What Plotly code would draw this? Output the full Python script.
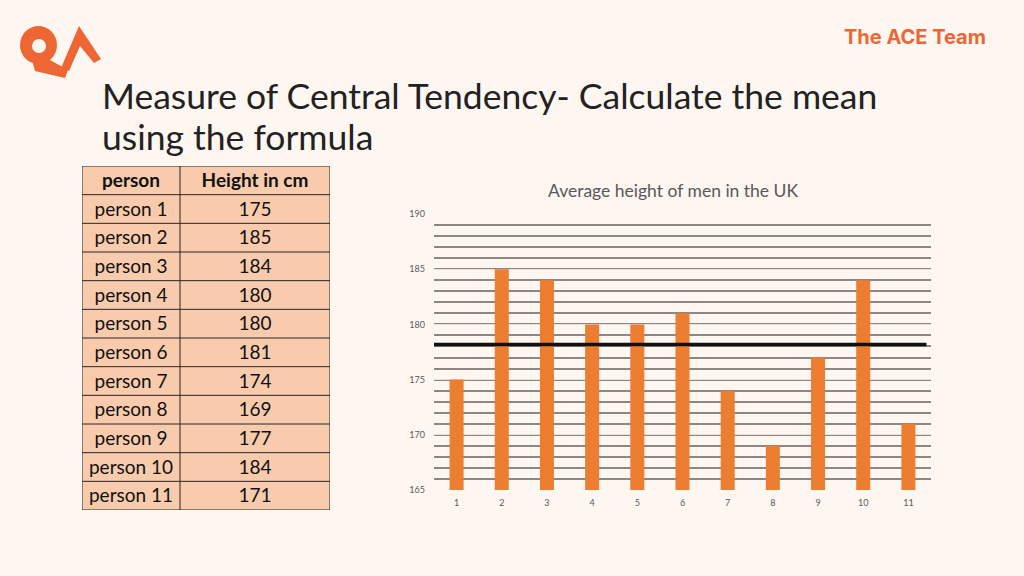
import plotly.graph_objects as go

persons = ["person 1", "person 2", "person 3", "person 4", "person 5", "person 6",
           "person 7", "person 8", "person 9", "person 10", "person 11"]
heights = [175, 185, 184, 180, 180, 181, 174, 169, 177, 184, 171]
table_header = ["person", "Height in cm"]
x_idx = list(range(1, 12))
y_ticks = [165, 170, 175, 180, 185, 190]
mean_h = sum(heights) / len(heights)

BG = "#FDF6F1"
ORANGE = "#ED7D31"
BRAND = "#EE6633"
PEACH = "#F8CBAD"
W, H = 1024, 576

def px(x):
    return x / W

def py(y):
    return 1 - y / H

fig = go.Figure()

# Bars
fig.add_trace(go.Bar(x=x_idx, y=[h - 165 for h in heights], base=165,
                     marker=dict(color=ORANGE, line_width=0), width=0.31,
                     hoverinfo="skip", showlegend=False))

# Mean line
fig.add_trace(go.Scatter(x=[0.47, 11.4], y=[mean_h, mean_h], mode="lines",
                         line=dict(color="#111111", width=3.5),
                         hoverinfo="skip", showlegend=False))

# Table (on its own hidden axes: x in px units of table width, y in rows)
col_w = [98, 150]
col_edges = [0, col_w[0], col_w[0] + col_w[1]]
col_centers = [col_w[0] / 2, col_w[0] + col_w[1] / 2]
n_rows = len(persons) + 1
text_off = 0.57

fig.add_trace(go.Scatter(
    x=[col_centers[0], col_centers[1]], y=[text_off, text_off], mode="text",
    text=[f"<b>{t}</b>" for t in table_header], xaxis="x2", yaxis="y2",
    textfont=dict(family="Lato", size=19, color="#111111"),
    hoverinfo="skip", showlegend=False))
fig.add_trace(go.Scatter(
    x=[col_centers[0]] * len(persons) + [col_centers[1]] * len(heights),
    y=[i + 1 + text_off for i in range(len(persons))] * 2, mode="text",
    text=persons + [str(h) for h in heights], xaxis="x2", yaxis="y2",
    textfont=dict(family="Lato", size=19, color="#111111"),
    hoverinfo="skip", showlegend=False))

shapes = [dict(type="rect", xref="x2", yref="y2", x0=col_edges[0], x1=col_edges[2],
               y0=0, y1=n_rows, fillcolor=PEACH, line=dict(color="#262626", width=1),
               layer="below")]
for r in range(1, n_rows):
    shapes.append(dict(type="line", xref="x2", yref="y2", x0=col_edges[0], x1=col_edges[2],
                       y0=r, y1=r, line=dict(color="#262626", width=1), layer="below"))
shapes.append(dict(type="line", xref="x2", yref="y2", x0=col_edges[1], x1=col_edges[1],
                   y0=0, y1=n_rows, line=dict(color="#262626", width=1), layer="below"))

fig.update_layout(
    width=W, height=H,
    paper_bgcolor=BG, plot_bgcolor=BG,
    margin=dict(l=0, r=0, t=0, b=0, pad=0, autoexpand=False),
    showlegend=False,
    xaxis=dict(domain=[px(434), px(931)], range=[0.5, 11.5], automargin=False,
               tickvals=x_idx, ticktext=[str(i) for i in x_idx],
               showgrid=False, zeroline=False, showline=False,
               ticks="", ticklabelstandoff=6,
               tickfont=dict(family="Lato", size=9, color="#595959")),
    yaxis=dict(domain=[py(490), py(214)], range=[165, 190], automargin=False,
               tickvals=y_ticks, showgrid=True, gridcolor="#E6E0DB", gridwidth=1,
               zeroline=False, showline=False, ticks="",
               ticklabelstandoff=8,
               tickfont=dict(family="Lato", size=9, color="#595959"),
               minor=dict(dtick=1, showgrid=True, gridcolor="#8E8682", gridwidth=2)),
    xaxis2=dict(domain=[px(82), px(330)], range=[0, col_edges[2]], visible=False,
                anchor="y2", fixedrange=True, automargin=False),
    yaxis2=dict(domain=[py(510), py(166)], range=[n_rows, 0], visible=False,
                anchor="x2", fixedrange=True, automargin=False),
)

annotations = [
    dict(text="Average height of men in the UK", x=px(673), y=py(190),
         xref="paper", yref="paper", showarrow=False,
         font=dict(family="Lato", size=17.5, color="#595959"),
         xanchor="center", yanchor="middle"),
    dict(text="Measure of Central Tendency- Calculate the mean",
         x=px(100), y=py(95), xref="paper", yref="paper", showarrow=False,
         align="left", xanchor="left", yanchor="middle",
         font=dict(family="Lato", size=35.5, color="#222222")),
    dict(text="using the formula",
         x=px(100), y=py(136), xref="paper", yref="paper", showarrow=False,
         align="left", xanchor="left", yanchor="middle",
         font=dict(family="Lato", size=35.5, color="#222222")),
    dict(text="<b>The ACE Team</b>", x=px(915), y=py(37), xref="paper", yref="paper",
         showarrow=False, xanchor="center", yanchor="middle",
         font=dict(family="Inter", size=20, color=BRAND)),
]
fig.update_layout(annotations=annotations)

shapes += [
    # Q outer ring
    dict(type="circle", xref="paper", yref="paper",
         x0=px(20), x1=px(57), y0=py(64), y1=py(26),
         fillcolor=BRAND, line_width=0, layer="above"),
    # Q tail
    dict(type="path", xref="paper", yref="paper",
         path=f"M {px(32)} {py(60)} L {px(50)} {py(60)} L {px(68)} {py(70)} L {px(65)} {py(78)} L {px(35)} {py(71)} Z",
         fillcolor=BRAND, line_width=0, layer="above"),
    # Q hole
    dict(type="circle", xref="paper", yref="paper",
         x0=px(32), x1=px(46), y0=py(53), y1=py(39),
         fillcolor=BG, line_width=0, layer="above"),
    # A chevron
    dict(type="path", xref="paper", yref="paper",
         path=(f"M {px(61)} {py(68)} L {px(79)} {py(26)} L {px(101)} {py(59)} "
               f"L {px(94)} {py(63)} L {px(80)} {py(46)} L {px(69)} {py(71)} Z"),
         fillcolor=BRAND, line_width=0, layer="above"),
]
fig.update_layout(shapes=shapes)

fig.write_html("out.html", config={"displayModeBar": False},
               post_script="document.body.style.margin='0px';")
